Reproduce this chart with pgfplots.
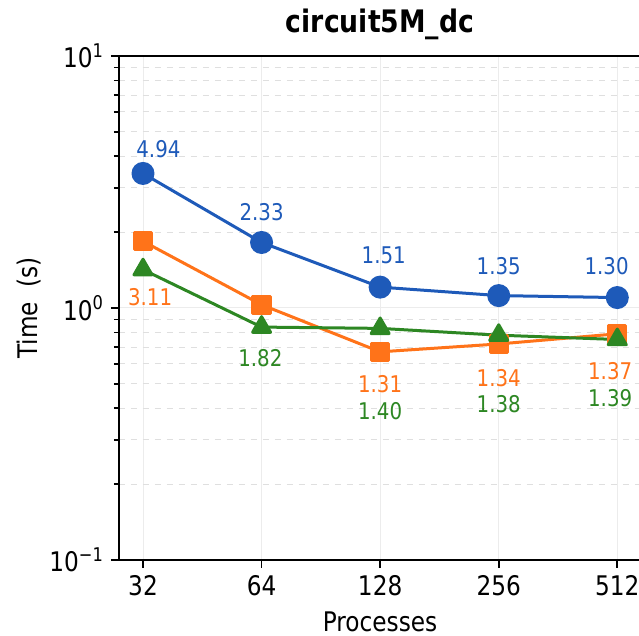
\documentclass[border=0pt]{standalone}
\usepackage{fontspec}
\setmainfont{DejaVu Sans}[FakeStretch=0.86]
\usepackage{pgfplots}
\pgfplotsset{compat=1.18}
\definecolor{cblue}{RGB}{30,90,185}
\definecolor{corange}{RGB}{255,115,25}
\definecolor{cgreen}{RGB}{45,135,35}
\begin{document}
\begin{tikzpicture}
\begin{axis}[
  scale only axis, width=261pt, height=252pt,
  ymode=log, ymin=0.1, ymax=10,
  xmin=-0.2025, xmax=4.2,
  xtick={0,1,2,3,4}, xticklabels={32,64,128,256,512},
  ytick={0.1,1,10},
  yticklabels={10\textsuperscript{−1},10\textsuperscript{0},10\textsuperscript{1}},
  minor ytick={0.2,0.3,0.4,0.5,0.6,0.7,0.8,0.9,2,3,4,5,6,7,8,9},
  tick align=outside, xtick pos=bottom, ytick pos=left,
  major tick length=4pt, minor tick length=2.5pt,
  tick style={black, line width=0.8pt},
  axis line style={line width=1pt},
  xmajorgrids, ymajorgrids, yminorgrids,
  major grid style={gray!15, line width=0.5pt},
  minor grid style={gray!25, dashed, line width=0.5pt},
  ticklabel style={font=\fontsize{13.5}{15}\selectfont},
  xlabel={Processes}, ylabel={Time\ \ (s)},
  xlabel style={font=\fontsize{13.5}{15}\selectfont, at={(axis description cs:0.5,0)}, anchor=center, yshift=-31pt},
  ylabel style={font=\fontsize{13.5}{15}\selectfont, at={(axis description cs:-0.172,0.5)}, anchor=center},
  title={\bfseries circuit5M\_dc},
  title style={font=\fontsize{15.5}{18}\selectfont, at={(axis description cs:0.5,1)}, anchor=base, yshift=5.5pt},
  clip=false,
  every axis plot/.append style={line width=1.5pt, line join=round},
]
\coordinate (bl) at (rel axis cs:0,0);
\coordinate (tr) at (rel axis cs:1,1);
\addplot[cblue, mark=*, mark size=5pt, mark options={solid}] coordinates {(0,3.42)(1,1.82)(2,1.21)(3,1.12)(4,1.10)};
\addplot[corange, mark=square*, mark size=4.3pt, mark options={solid}] coordinates {(0,1.84)(1,1.03)(2,0.67)(3,0.72)(4,0.79)};
\addplot[cgreen, mark=triangle*, mark size=5.2pt, mark options={solid}] coordinates {(0,1.42)(1,0.84)(2,0.83)(3,0.78)(4,0.75)};
\begin{scope}[every node/.style={font=\fontsize{11.5}{13}\selectfont}]
\node[text=cblue] at (axis cs:0.13,4.27) {4.94};
\node[text=cblue] at (axis cs:1.0,2.40) {2.33};
\node[text=cblue] at (axis cs:2.03,1.62) {1.51};
\node[text=cblue] at (axis cs:3.0,1.47) {1.35};
\node[text=cblue] at (axis cs:3.91,1.47) {1.30};
\node[text=corange] at (axis cs:0.06,1.10) {3.11};
\node[text=corange] at (axis cs:2.0,0.50) {1.31};
\node[text=corange] at (axis cs:3.0,0.525) {1.34};
\node[text=corange] at (axis cs:3.94,0.56) {1.37};
\node[text=cgreen] at (axis cs:0.99,0.63) {1.82};
\node[text=cgreen] at (axis cs:2.0,0.39) {1.40};
\node[text=cgreen] at (axis cs:3.0,0.415) {1.38};
\node[text=cgreen] at (axis cs:3.94,0.44) {1.39};
\end{scope}
\end{axis}
\pgfresetboundingbox
\path ([shift={(-59.5pt,-38pt)}]bl) rectangle ([shift={(-1pt,28pt)}]tr);
\end{tikzpicture}
\end{document}
